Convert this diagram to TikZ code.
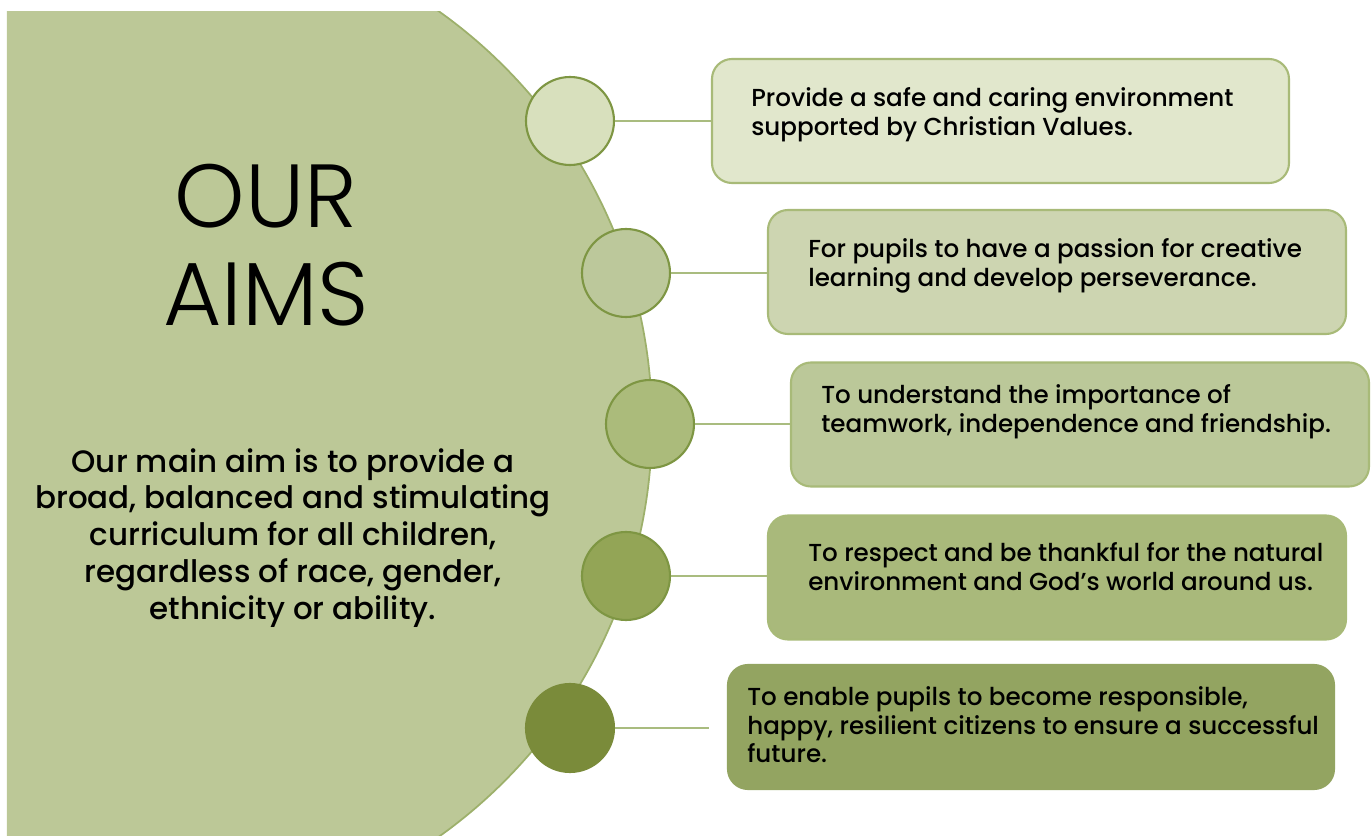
\documentclass[tikz,border=0pt]{standalone}
\usepackage{fontspec}
\usepackage{xcolor}
\setmainfont{Poppins}[UprightFont=* Medium]
\newfontfamily\thinfont{Poppins}[UprightFont=* Light]
\usetikzlibrary{positioning}

\definecolor{bigfill}{HTML}{BCC897}
\definecolor{arcline}{HTML}{9DB06B}
\definecolor{dotline}{HTML}{7E9643}
\definecolor{boxline}{HTML}{A8BA78}
\definecolor{linkline}{HTML}{A9BC7F}
\definecolor{dotA}{HTML}{D8E0BD}
\definecolor{dotB}{HTML}{BCC89B}
\definecolor{dotC}{HTML}{ABBB7B}
\definecolor{dotD}{HTML}{93A556}
\definecolor{dotE}{HTML}{7A8B3A}
\definecolor{boxA}{HTML}{E1E7CC}
\definecolor{boxB}{HTML}{CDD5B1}
\definecolor{boxC}{HTML}{BBC899}
\definecolor{boxD}{HTML}{A9B97B}
\definecolor{boxE}{HTML}{93A461}

\begin{document}
\begin{tikzpicture}[
      dot/.style={
        circle,
        draw=dotline,
        line width=1.2pt,
        minimum size=1.76cm,
        inner sep=0pt
      },
      aimbox/.style={
        rectangle,
        draw=boxline,
        line width=1.2pt,
        rounded corners=0.4cm,
        minimum width=11.56cm,
        minimum height=2.48cm
      },
      aimtext/.style={
        anchor=north west,
        align=left,
        inner sep=0pt,
        font=\fontsize{14}{16.4}\selectfont
      },
      link/.style={draw=linkline, line width=1.2pt}
    ]
    \useasboundingbox (0,0) rectangle (27.44,-16.72);

    % big half circle on the left
    \begin{scope}
      \clip (0.14,-0.24) rectangle (27.44,-16.72);
      \filldraw[fill=bigfill, draw=arcline, line width=1pt] (2.92,-8.48) circle (10.12);
    \end{scope}

    \node[font=\thinfont\fontsize{51}{56}\selectfont, align=center] (title) at (5.32,-4.9) {OUR\\AIMS};
    \node[font=\fontsize{17.6}{21}\selectfont, align=center] (mainaim) at (5.86,-10.76)
      {Our main aim is to provide a\\broad, balanced and stimulating\\curriculum for all children,\\regardless of race, gender,\\ethnicity or ability.};

    % circles on the arc
    \node[dot, fill=dotA] (d1) at (11.40,-2.42) {};
    \node[dot, fill=dotB] (d2) at (12.52,-5.46) {};
    \node[dot, fill=dotC] (d3) at (13.00,-8.48) {};
    \node[dot, fill=dotD] (d4) at (12.52,-11.52) {};
    \node[dot, fill=dotE, draw=dotE] (d5) at (11.40,-14.56) {};

    % boxes
    \node[aimbox, fill=boxA, minimum width=11.54cm] (b1) at (20.01,-2.42) {};
    \node[aimbox, fill=boxB] (b2) at (21.14,-5.44) {};
    \node[aimbox, fill=boxC] (b3) at (21.60,-8.49) {};
    \node[aimbox, fill=boxD] (b4) at (21.14,-11.55) {};
    \node[aimbox, fill=boxE, draw=boxE, minimum width=12.12cm] (b5) at (20.62,-14.54) {};

    \node[aimtext] (t1) at ([xshift=0.8cm, yshift=-0.58cm]b1.north west)
      {Provide a safe and caring environment\\supported by Christian Values.};
    \node[aimtext] (t2) at ([xshift=0.82cm, yshift=-0.58cm]b2.north west)
      {For pupils to have a passion for creative\\learning and develop perseverance.};
    \node[aimtext] (t3) at ([xshift=0.62cm, yshift=-0.46cm]b3.north west)
      {To understand the importance of\\teamwork, independence and friendship.};
    \node[aimtext] (t4) at ([xshift=0.82cm, yshift=-0.56cm]b4.north west)
      {To respect and be thankful for the natural\\environment and God's world around us.};
    \node[aimtext] (t5) at ([xshift=0.4cm, yshift=-0.44cm]b5.north west)
      {To enable pupils to become responsible,\\happy, resilient citizens to ensure a successful\\future.};

    \draw[link] (d1.east) -- (d1.east -| b1.west);
    \draw[link] (d2.east) -- (d2.east -| b2.west);
    \draw[link] (d3.east) -- (d3.east -| b3.west);
    \draw[link] (d4.east) -- (d4.east -| b4.west);
    \draw[link] (d5.east) -- ([xshift=-0.36cm]d5.east -| b5.west);
  \end{tikzpicture}
\end{document}
